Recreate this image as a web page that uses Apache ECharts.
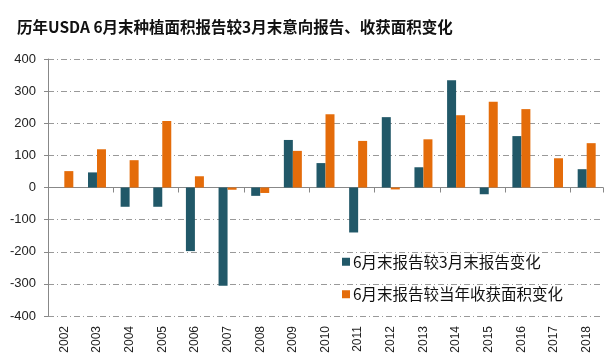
<!DOCTYPE html>
<html><head><meta charset="utf-8">
<script src="https://cdn.jsdelivr.net/npm/echarts@6/dist/echarts.min.js"></script>
<style>html,body{margin:0;padding:0;background:#fff}#c{width:614px;height:364px}</style>
</head><body><div id="c"></div>
<script>
const years = ['2002','2003','2004','2005','2006','2007','2008','2009','2010','2011','2012','2013','2014','2015','2016','2017','2018'];
const vsMarch = [null,47,-60,-60,-198,-306,-26,148,76,-140,219,63,334,-21,160,null,57];
const vsHarvest = [51,119,85,207,35,-7,-17,114,228,145,-6,150,225,267,244,91,138];
const seriesNames = ['6月末报告较3月末报告变化','6月末报告较当年收获面积变化'];
const titleText = '历年USDA 6月末种植面积报告较3月末意向报告、收获面积变化';

const chart = echarts.init(document.getElementById('c'));
chart.setOption({
  animation:false,
  backgroundColor:'#fff',
  title:{text:titleText,left:12,top:14,textStyle:{fontFamily:'Noto Sans CJK SC',fontSize:15.5,fontWeight:'bold',color:'#111'}},
  legend:{orient:'vertical',left:337,top:249,itemWidth:8,itemHeight:8,itemGap:17,icon:'rect',
    textStyle:{fontFamily:'Noto Sans CJK SC',fontSize:15.5,color:'#111',padding:[0,0,0,-2]},
    data:seriesNames},
  grid:{left:48,right:11,top:59,bottom:48},
  xAxis:[
    {type:'category',data:years,position:'bottom',axisLine:{show:false,onZero:false},axisTick:{show:false},
     axisLabel:{rotate:90,fontSize:12,color:'#222',fontFamily:'Liberation Sans',margin:10}},
    {type:'category',data:years,position:'bottom',axisLine:{show:true,onZero:true,lineStyle:{color:'#888',width:1}},
     axisTick:{show:true,inside:false,length:5,lineStyle:{color:'#888'}},axisLabel:{show:false}}
  ],
  yAxis:{type:'value',min:-400,max:400,interval:100,
    axisLine:{show:true,lineStyle:{color:'#888'}},axisTick:{show:true,length:4,lineStyle:{color:'#888'}},
    axisLabel:{fontSize:13,color:'#222',fontFamily:'Liberation Sans',margin:12},
    splitLine:{show:true,lineStyle:{color:'#999',type:[6,3,1,3],width:1}}},
  series:[
    {name:seriesNames[0],type:'bar',data:vsMarch,itemStyle:{color:'#215868'},barWidth:9,barGap:'0%'},
    {name:seriesNames[1],type:'bar',data:vsHarvest,itemStyle:{color:'#E46C0A'},barWidth:9,barGap:'0%'}
  ]
});
</script></body></html>
